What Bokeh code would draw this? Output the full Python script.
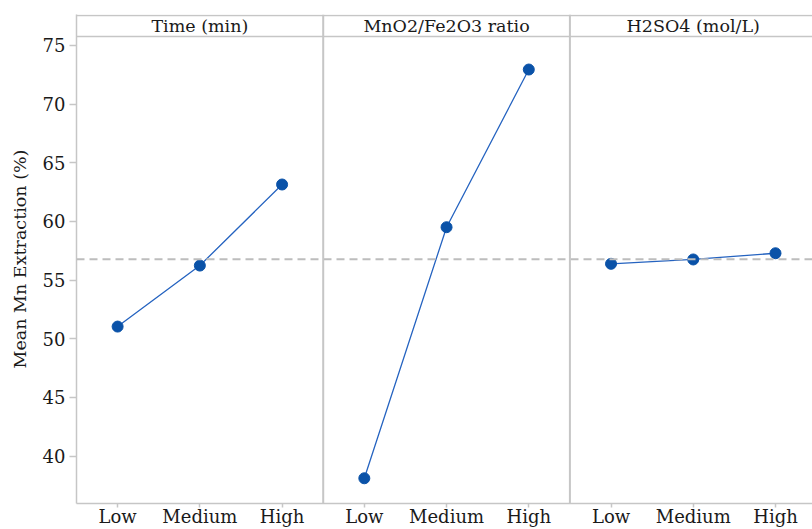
from bokeh.plotting import figure
from bokeh.models import Range1d, FixedTicker, Span, ColumnDataSource
from bokeh.core.properties import value
from bokeh.embed import file_html
from bokeh.resources import INLINE

# ---- data ----
factors = ["Time (min)", "MnO2/Fe2O3 ratio", "H2SO4 (mol/L)"]
levels = ["Low", "Medium", "High"]
time_means = [51.04, 56.24, 63.15]
ratio_means = [38.11, 59.51, 72.95]
acid_means = [56.39, 56.76, 57.29]
grand_mean = 56.78
y_ticks = [40, 45, 50, 55, 60, 65, 70, 75]

series = [time_means, ratio_means, acid_means]

FONT = "DejaVu Serif"
GRAY = "#c6c6c6"
TXT = "#1a1a1a"
LINE = "#2563c0"
MARK = "#0a52a8"

y_bottom = 35.96
header_low = 75.77
header_high = 77.55
y_top = 77.64

n_lv = len(levels)
x_end = len(factors) * n_lv - 0.05

p = figure(width=812, height=529, output_backend="svg", toolbar_location=None,
           x_range=Range1d(0, x_end), y_range=Range1d(y_bottom, y_top),
           min_border_left=76, min_border_top=14, min_border_right=0, min_border_bottom=0)
p.outline_line_color = None
p.xgrid.visible = False
p.ygrid.visible = False
p.background_fill_color = "white"
p.border_fill_color = "white"

# x axis
tick_pos = [i * n_lv + j + 0.5 for i in range(len(factors)) for j in range(n_lv)]
p.xaxis.ticker = FixedTicker(ticks=tick_pos)
p.xaxis.major_label_overrides = {t: levels[k % n_lv] for k, t in enumerate(tick_pos)}
p.xaxis.minor_tick_line_color = None
p.xaxis.major_tick_in = 0
p.xaxis.major_tick_out = 4
p.xaxis.major_label_standoff = -2
p.xaxis.axis_line_color = GRAY
p.xaxis.axis_line_width = 1.5
p.xaxis.major_tick_line_color = GRAY
p.xaxis.major_tick_line_width = 1.5
p.xaxis.major_label_text_font = FONT
p.xaxis.major_label_text_font_size = "18px"
p.xaxis.major_label_text_color = TXT

# y axis
p.yaxis.ticker = FixedTicker(ticks=y_ticks)
p.yaxis.minor_tick_line_color = None
p.yaxis.major_tick_in = 0
p.yaxis.major_tick_out = 7
p.yaxis.major_label_standoff = 4
p.yaxis.axis_line_color = GRAY
p.yaxis.axis_line_width = 1.5
p.yaxis.major_tick_line_color = GRAY
p.yaxis.major_tick_line_width = 1.5
p.yaxis.major_label_text_font = FONT
p.yaxis.major_label_text_font_size = "18px"
p.yaxis.major_label_text_color = TXT
p.yaxis.axis_label = "Mean Mn Extraction (%)"
p.yaxis.axis_label_text_font = FONT
p.yaxis.axis_label_text_font_size = "17.5px"
p.yaxis.axis_label_text_font_style = "normal"
p.yaxis.axis_label_text_color = TXT
p.yaxis.axis_label_standoff = 10

# mean reference line
p.add_layout(Span(location=grand_mean, dimension="width", line_color="#bdbdbd",
                  line_width=2, line_dash="8 5"))

# header strip lines
p.add_layout(Span(location=header_low, dimension="width", line_color=GRAY, line_width=1.5))
p.add_layout(Span(location=header_high, dimension="width", line_color=GRAY, line_width=1.5))
for i in range(1, len(factors)):
    p.add_layout(Span(location=i * n_lv, dimension="height", line_color=GRAY, line_width=2))

# header texts
p.text(x=[i * n_lv + n_lv / 2 for i in range(len(factors))],
       y=[(header_low + header_high) / 2] * len(factors),
       text=factors, text_align="center", text_baseline="middle",
       text_font=value(FONT), text_font_size="17.5px", text_color=TXT)

# data lines and points
for i, vals in enumerate(series):
    xs = [i * n_lv + j + 0.5 for j in range(n_lv)]
    src = ColumnDataSource(dict(x=xs, y=vals, level=levels))
    p.line("x", "y", source=src, line_color=LINE, line_width=1.3)
    p.scatter("x", "y", source=src, size=11, fill_color=MARK, line_color=MARK)

open("out.html", "w").write(file_html(p, INLINE))
